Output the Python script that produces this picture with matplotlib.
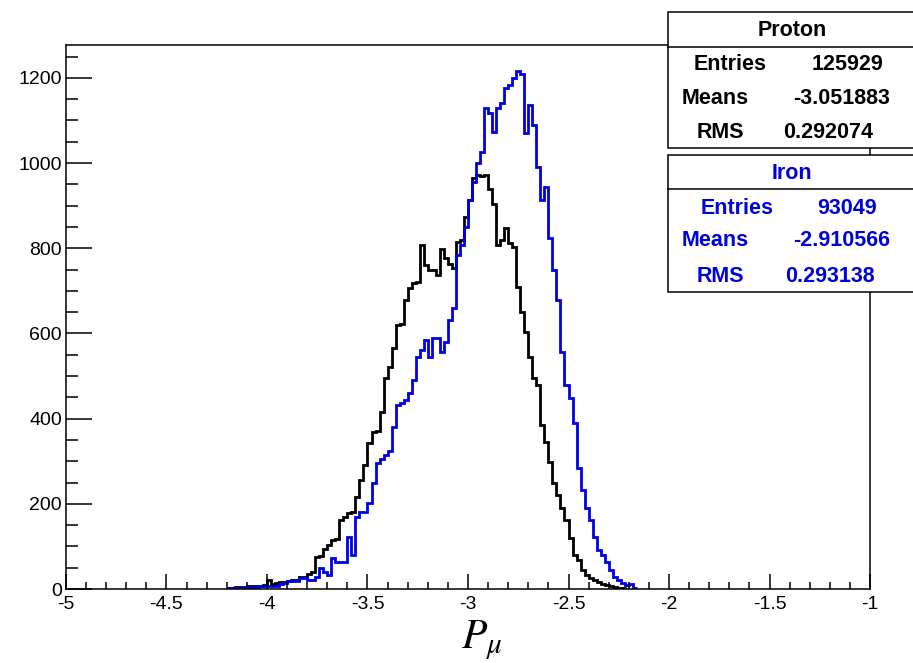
import numpy as np
import matplotlib
matplotlib.use("Agg")
import matplotlib.pyplot as plt
from matplotlib.patches import Rectangle
from matplotlib.ticker import MultipleLocator

# ---------------- data ----------------
bin_width = 0.02
first_edge = -4.20

proton_counts = [
    2, 3, 4, 5, 5, 6, 6, 7, 8, 9,
    22, 12, 14, 17, 17, 18, 20, 22, 27, 29,
    35, 40, 75, 78, 95, 103, 115, 118, 162, 170,
    178, 180, 216, 256, 291, 343, 369, 372, 416, 495,
    521, 566, 620, 622, 679, 707, 718, 721, 808, 761,
    749, 749, 737, 798, 777, 763, 754, 815, 820, 874,
    914, 965, 972, 970, 972, 940, 904, 808, 820, 848,
    812, 803, 709, 651, 603, 545, 495, 479, 385, 345,
    298, 249, 221, 190, 162, 120, 80, 68, 45, 33,
    26, 22, 16, 12, 9, 7, 4, 3, 2, 1,
]

iron_counts = [
    2, 2, 3, 3, 4, 4, 5, 5, 6, 6,
    7, 7, 8, 12, 14, 18, 19, 19, 26, 26,
    21, 21, 28, 49, 40, 33, 73, 63, 63, 63,
    122, 80, 169, 181, 181, 202, 249, 296, 305, 315,
    325, 380, 432, 436, 444, 460, 491, 545, 561, 585,
    545, 590, 590, 557, 580, 632, 660, 785, 808, 850,
    914, 956, 1000, 1025, 1130, 1118, 1073, 1130, 1141, 1177,
    1184, 1200, 1215, 1210, 1071, 1137, 1090, 991, 914, 944,
    824, 749, 679, 557, 479, 449, 390, 284, 232, 190,
    162, 122, 92, 80, 63, 45, 28, 20, 14, 9,
    12, 3,
]

x_range = (-5, -1)
y_max = 1277
x_ticks = [-5, -4.5, -4, -3.5, -3, -2.5, -2, -1.5, -1]
x_tick_labels = ["-5", "-4.5", "-4", "-3.5", "-3", "-2.5", "-2", "-1.5", "-1"]
y_ticks = [0, 200, 400, 600, 800, 1000, 1200]

proton_stats = {"title": "Proton", "Entries": "125929", "Means": "-3.051883", "RMS": "0.292074"}
iron_stats = {"title": "Iron", "Entries": "93049", "Means": "-2.910566", "RMS": "0.293138"}

# ---------------- figure ----------------
W, H = 913, 663
plt.rcParams["font.family"] = ["Liberation Sans", "DejaVu Sans"]
plt.rcParams["mathtext.fontset"] = "stix"
fig = plt.figure(figsize=(W / 100, H / 100), dpi=100)
fig.patch.set_facecolor("white")

L, R, T, B = 66, 870, 45, 589
ax = fig.add_axes([L / W, 1 - B / H, (R - L) / W, (B - T) / H])

def edges_for(counts):
    return first_edge + bin_width * np.arange(len(counts) + 1)

ax.stairs(proton_counts, edges_for(proton_counts), color="black", linewidth=2.0, baseline=None)
ax.stairs(iron_counts, edges_for(iron_counts), color="#0000e6", linewidth=2.0, baseline=None)

ax.set_xlim(*x_range)
ax.set_ylim(0, y_max)
ax.set_xticks(x_ticks)
ax.set_xticklabels(x_tick_labels)
ax.set_yticks(y_ticks)
ax.xaxis.set_minor_locator(MultipleLocator(0.1))
ax.yaxis.set_minor_locator(MultipleLocator(50))
ax.tick_params(axis="x", which="major", direction="in", length=11, width=1.1, pad=5, labelsize=14)
ax.tick_params(axis="x", which="minor", direction="in", length=5, width=1.1)
ax.tick_params(axis="y", which="major", direction="in", length=18.5, width=1.1, pad=3, labelsize=14)
ax.tick_params(axis="y", which="minor", direction="in", length=8.5, width=1.1)
ax.tick_params(top=False, right=False, which="both")
for s in ax.spines.values():
    s.set_linewidth(1.1)

# x label
fig.text(482 / W, 1 - 640 / H, r"$P_{\mu}$", fontsize=30, ha="center", va="center")

# ---------------- stat boxes ----------------
def px(x, y):
    return x / W, 1 - y / H

def stat_box(top, sep, bottom, stats, color, rows_y, label_x, value_x, title_y):
    x0, x1 = 668, 916
    fig.add_artist(Rectangle(px(x0, bottom), (x1 - x0) / W, (bottom - top) / H,
                             transform=fig.transFigure, facecolor="white",
                             edgecolor="black", linewidth=1.1, zorder=5))
    fig.add_artist(plt.Line2D([x0 / W, x1 / W], [1 - sep / H, 1 - sep / H],
                              transform=fig.transFigure, color="black", linewidth=1.1, zorder=6))
    fig.text(*px(792, title_y), stats["title"], fontsize=15.5, fontweight="bold",
             color=color, ha="center", va="center", zorder=7)
    for key, y, lx, vx in zip(["Entries", "Means", "RMS"], rows_y, label_x, value_x):
        fig.text(*px(lx, y), key, fontsize=15.5, fontweight="bold", color=color,
                 ha="center", va="center", zorder=7)
        fig.text(*px(vx, y), stats[key], fontsize=15.5, fontweight="bold", color=color,
                 ha="center", va="center", zorder=7)

stat_box(12, 47, 148, proton_stats, "black", [65, 99, 133],
         [730, 715, 720], [847, 842, 828], 31)
stat_box(155, 189, 292, iron_stats, "#0000dd", [209, 241, 276],
         [737, 715, 720], [847, 842, 830], 174)

fig.savefig("out.png", dpi=100)
